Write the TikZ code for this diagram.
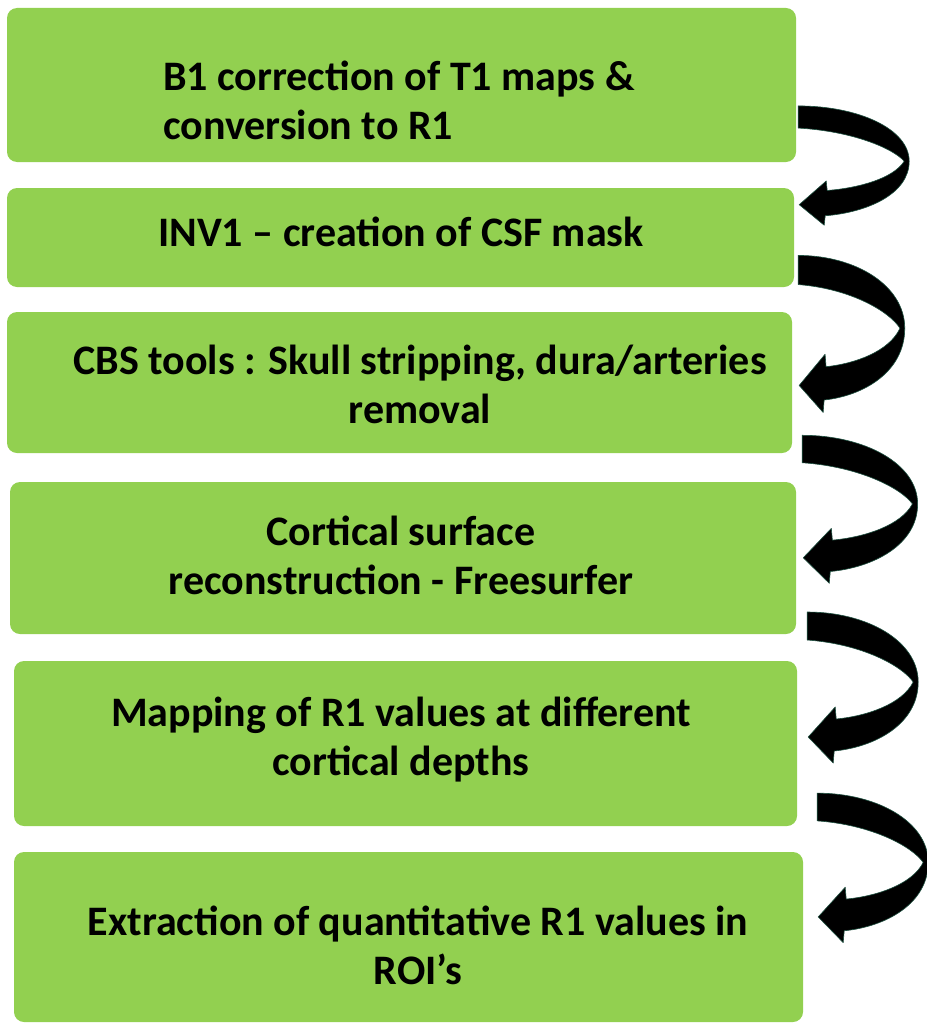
\documentclass[tikz,border=0pt]{standalone}
\usepackage{fontspec}
\setmainfont{Carlito}
\usetikzlibrary{calc}
\definecolor{stepgreen}{HTML}{92D050}
\definecolor{rimgreen}{HTML}{1E5040}
\tikzset{
  curlarrow/.pic={
    \fill[black, draw=rimgreen, line width=0.6pt, line join=round]
      (0,14) .. controls (60,14) and (111,-15) .. (111,-56)
      .. controls (111,-98) and (68,-121) .. (27,-125)
      -- (26,-137) -- (1,-111) -- (28,-81) -- (29,-93)
      .. controls (60,-90) and (95,-78) .. (106,-56)
      .. controls (95,-40) and (55,-18) .. (0,-14) -- cycle;
  }
}
\begin{document}
\begin{tikzpicture}[x=1pt, y=1pt,
  box/.style={fill=stepgreen, rounded corners=10pt, inner sep=0pt},
  txt/.style={font=\bfseries\fontsize{42}{49}\selectfont, align=center, inner sep=0pt}]
\useasboundingbox (0,0) rectangle (926,-1025);
% boxes
\node[box, minimum width=789pt, minimum height=154pt] (b1) at (401.5,-85) {};
\node[box, minimum width=787pt, minimum height=99pt] (b2) at (400.5,-237.5) {};
\node[box, minimum width=785pt, minimum height=141pt] (b3) at (399.5,-382.5) {};
\node[box, minimum width=786pt, minimum height=152pt] (b4) at (403,-558) {};
\node[box, minimum width=783pt, minimum height=165pt] (b5) at (405.5,-743.5) {};
\node[box, minimum width=789pt, minimum height=170pt] (b6) at (408.5,-937) {};
% texts
\node[txt, align=left, anchor=west] (t1) at (163,-100) {B1 correction of T1 maps \&\\conversion to R1};
\node[txt] (t2) at (401,-232) {INV1 -- creation of CSF mask};
\node[txt] (t3) at (420,-384) {CBS tools : Skull stripping, dura/arteries\\removal};
\node[txt] (t4) at (401,-555) {Cortical surface\\reconstruction - Freesurfer};
\node[txt] (t5) at (401,-740) {Mapping of R1 values at different\\cortical depths};
\node[txt] (t6) at (418,-945) {Extraction of quantitative R1 values in\\ROI’s};
% arrows
\foreach \b/\dx/\dy/\xs/\ys [count=\i] in {b1/2/-32/1/0.79, b2/4/-32.5/0.96/1.04,
    b3/10/-66.5/1.04/0.98, b4/11/-68/1/1, b5/20/-63.5/1/0.99}{
  \coordinate (a\i) at ([shift={(\dx,\dy)}]\b.east);
  \pic[xscale=\xs, yscale=\ys] at (a\i) {curlarrow};
}
\end{tikzpicture}
\end{document}
